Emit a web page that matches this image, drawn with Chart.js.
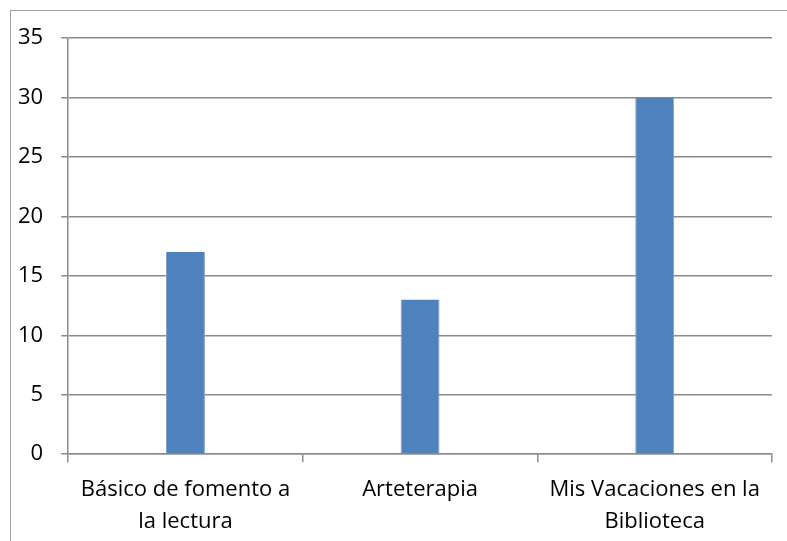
<!DOCTYPE html>
<html>
<head>
<meta charset="utf-8">
<script src="https://cdn.jsdelivr.net/npm/chart.js@4"></script>
<style>
  html, body { margin: 0; padding: 0; background: #fff; overflow: hidden; }
  #frame { position: absolute; left: 10px; top: 10px; width: 900px; height: 700px; border: 1px solid #a0a0a0; }
  #wrap { position: absolute; left: 0; top: 0; width: 787px; height: 541px; }
</style>
</head>
<body>
<div id="frame"></div>
<div id="wrap"><canvas id="grafico"></canvas></div>
<script>
// Datos del gráfico
const categorias = [
  ["Básico de fomento a", "la lectura"],
  "Arteterapia",
  ["Mis Vacaciones en la", "Biblioteca"],
];
const valores = [17, 13, 30];
const ejeY = { min: 0, max: 35, paso: 5 };

const gris = "#8c8c8c";
const fuente = { family: "'Open Sans', sans-serif", size: 22, lineHeight: 1.45 };

const ctx = document.getElementById("grafico").getContext("2d");

new Chart(ctx, {
  type: "bar",
  data: {
    labels: categorias,
    datasets: [
      {
        data: valores,
        backgroundColor: "#4f81bd",
        borderColor: "#7fa2cf",
        borderWidth: { left: 1, right: 1 },
        categoryPercentage: 1,
        barPercentage: 0.166,
      },
    ],
  },
  options: {
    responsive: true,
    maintainAspectRatio: false,
    animation: false,
    layout: { padding: { top: 38, right: 15, left: 0, bottom: 0 } },
    plugins: {
      legend: { display: false },
      tooltip: { enabled: false },
    },
    scales: {
      y: {
        min: ejeY.min,
        max: ejeY.max,
        ticks: {
          stepSize: ejeY.paso,
          color: "#000",
          font: { family: fuente.family, size: 22 },
          padding: 18,
        },
        grid: {
          color: gris,
          lineWidth: 1.5,
          tickLength: 7,
        },
        border: { color: gris, width: 1.5 },
      },
      x: {
        // el eje ocupa menos alto para bajar la base como en el original
        afterFit: (scale) => {
          scale.height -= 9;
        },
        ticks: {
          color: "#000",
          font: fuente,
          padding: 12,
          maxRotation: 0,
        },
        grid: {
          color: gris,
          lineWidth: 1.5,
          drawOnChartArea: false,
          tickLength: 8,
        },
        border: { color: gris, width: 1.5 },
      },
    },
  },
});
</script>
</body>
</html>
